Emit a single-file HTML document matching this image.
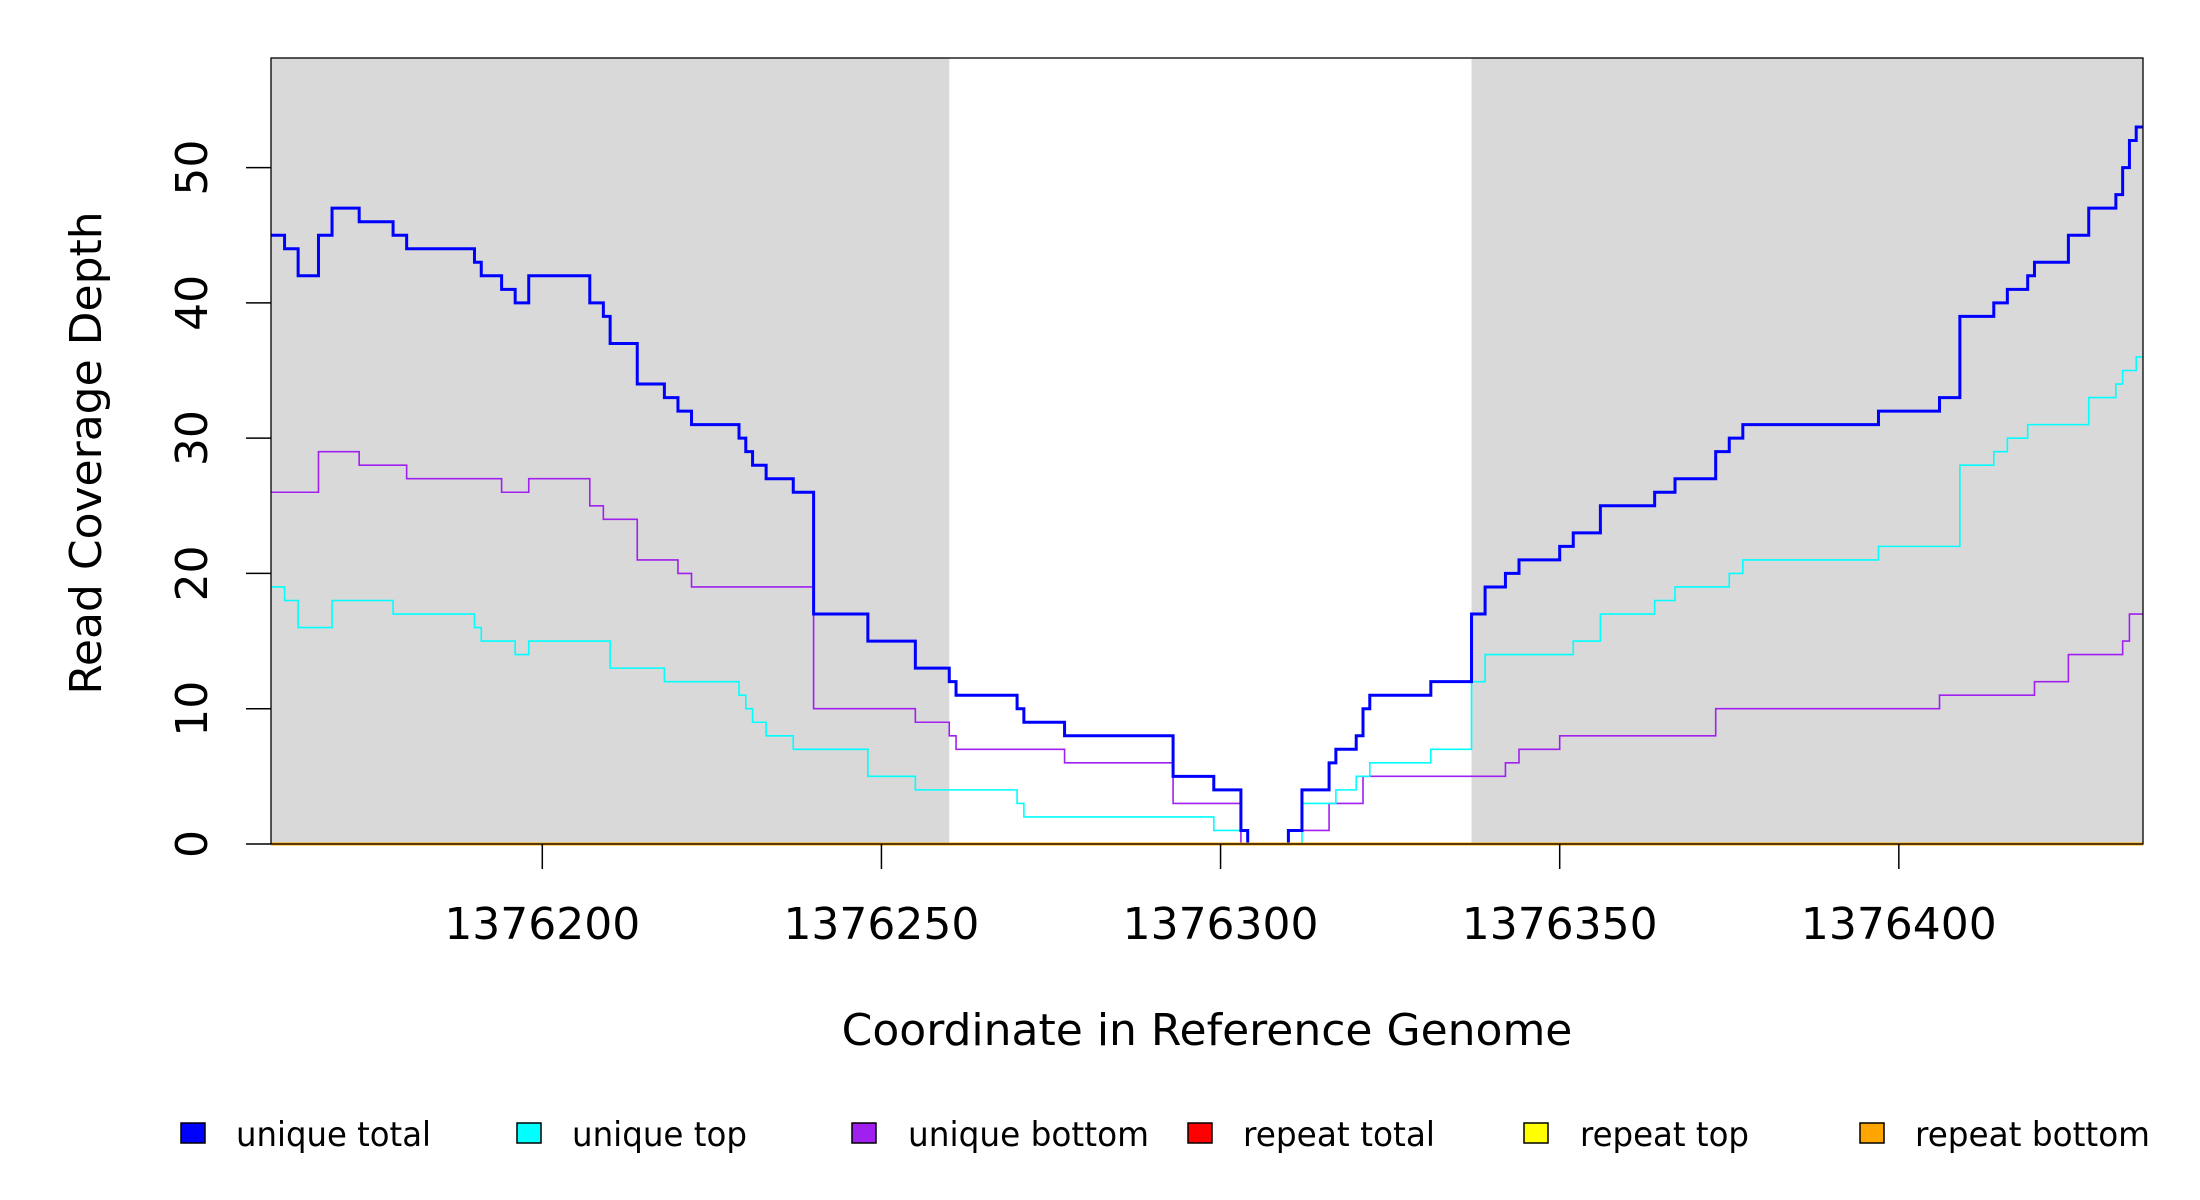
<!DOCTYPE html>
<html><head><meta charset="utf-8"><style>
html,body{margin:0;padding:0;background:#fff;}
svg{display:block;}
text{font-family:"DejaVu Sans","Liberation Sans",sans-serif;fill:#000;}
</style></head><body>
<svg id="chart" width="2200" height="1200" viewBox="0 0 2200 1200" xmlns="http://www.w3.org/2000/svg">
<g id="bg"></g>
<g id="series"></g>
<g id="axes"></g>
<g id="legend"></g>
</svg>
<script>
const xDomain = [1376160, 1376436];
const yDomain = [0, 58.1];
const xTicks = [1376200, 1376250, 1376300, 1376350, 1376400];
const yTicks = [0, 10, 20, 30, 40, 50];
const shadedRegions = [[1376160, 1376260], [1376337, 1376436]];

const uniqueTotalX = [1376160,1376162,1376164,1376167,1376169,1376173,1376178,1376180,1376190,1376191,1376194,1376196,1376198,1376207,1376209,1376210,1376214,1376218,1376220,1376222,1376229,1376230,1376231,1376233,1376237,1376240,1376248,1376255,1376260,1376261,1376270,1376271,1376277,1376293,1376299,1376303,1376304,1376310,1376312,1376316,1376317,1376320,1376321,1376322,1376331,1376337,1376339,1376342,1376344,1376350,1376352,1376356,1376364,1376367,1376373,1376375,1376377,1376397,1376406,1376409,1376414,1376416,1376419,1376420,1376425,1376428,1376432,1376433,1376434,1376435];
const uniqueTotalY = [45,44,42,45,47,46,45,44,43,42,41,40,42,40,39,37,34,33,32,31,30,29,28,27,26,17,15,13,12,11,10,9,8,5,4,1,0,1,4,6,7,8,10,11,12,17,19,20,21,22,23,25,26,27,29,30,31,32,33,39,40,41,42,43,45,47,48,50,52,53];

const uniqueTopX = [1376160,1376162,1376164,1376169,1376178,1376190,1376191,1376196,1376198,1376210,1376218,1376229,1376230,1376231,1376233,1376237,1376248,1376255,1376270,1376271,1376299,1376304,1376312,1376317,1376320,1376322,1376331,1376337,1376339,1376352,1376356,1376364,1376367,1376375,1376377,1376397,1376409,1376414,1376416,1376419,1376428,1376432,1376433,1376435];
const uniqueTopY = [19,18,16,18,17,16,15,14,15,13,12,11,10,9,8,7,5,4,3,2,1,0,3,4,5,6,7,12,14,15,17,18,19,20,21,22,28,29,30,31,33,34,35,36];

const uniqueBottomX = [1376160,1376167,1376173,1376180,1376194,1376198,1376207,1376209,1376214,1376220,1376222,1376240,1376255,1376260,1376261,1376277,1376293,1376303,1376310,1376316,1376321,1376342,1376344,1376350,1376373,1376406,1376420,1376425,1376433,1376434];
const uniqueBottomY = [26,29,28,27,26,27,25,24,21,20,19,10,9,8,7,6,3,0,1,3,5,6,7,8,10,11,12,14,15,17];

const repeatX = [1376160];
const repeatTotalY = [0];
const repeatTopY = [0];
const repeatBottomY = [0];

const legendLabels = ["unique total","unique top","unique bottom","repeat total","repeat top","repeat bottom"];
const legendColors = ["#0000ff","#00ffff","#a020f0","#ff0000","#ffff00","#ffa500"];

const P = {l:271, r:2143, t:58, b:844};
const NS = "http://www.w3.org/2000/svg";
function sx(v){ return P.l + (v - xDomain[0]) / (xDomain[1] - xDomain[0]) * (P.r - P.l); }
function sy(v){ return P.b - (v - yDomain[0]) / (yDomain[1] - yDomain[0]) * (P.b - P.t); }
function mk(tag, attrs, parent){ const e = document.createElementNS(NS, tag); for (const k in attrs) e.setAttribute(k, attrs[k]); parent.appendChild(e); return e; }

const bg = document.getElementById('bg');
shadedRegions.forEach(function(r){
  const rect = mk('rect', {x:sx(r[0]), y:P.t, width:sx(r[1])-sx(r[0]), height:P.b-P.t, fill:'#d9d9d9'}, bg);
  
  
});

function stepPath(xs, ys){
  let d = '';
  for (let i = 0; i < xs.length; i++){
    const x0 = sx(xs[i]), x1 = sx(i+1 < xs.length ? xs[i+1] : xDomain[1]), y = sy(ys[i]);
    d += (i === 0 ? 'M' + x0 + ',' + y : 'L' + x0 + ',' + y) + ' L' + x1 + ',' + y + ' ';
  }
  return d;
}
const sg = document.getElementById('series');
const seriesDefs = [
  [uniqueBottomX, uniqueBottomY, legendColors[2], 1.6, 'unique-bottom-line'],
  [uniqueTopX, uniqueTopY, legendColors[1], 1.6, 'unique-top-line'],
  [uniqueTotalX, uniqueTotalY, legendColors[0], 3, 'unique-total-line'],
  [repeatX, repeatTotalY, legendColors[3], 3, 'repeat-total-line'],
  [repeatX, repeatTopY, legendColors[4], 3, 'repeat-top-line'],
  [repeatX, repeatBottomY, legendColors[5], 3, 'repeat-bottom-line']
];
seriesDefs.forEach(function(s){
  const p = mk('path', {d:stepPath(s[0], s[1]), fill:'none', stroke:s[2], 'stroke-width':s[3]}, sg);
  
  
});

const ax = document.getElementById('axes');
const frame = mk('rect', {x:P.l, y:P.t, width:P.r-P.l, height:P.b-P.t, fill:'none', stroke:'#000', 'stroke-width':1.3}, ax);


xTicks.forEach(function(t){
  const x = sx(t);
  const tk = mk('line', {x1:x, x2:x, y1:P.b, y2:P.b+25, stroke:'#000', 'stroke-width':1.5}, ax);
  
  
  const lb = mk('text', {x:x, y:939, 'text-anchor':'middle', 'font-size':44}, ax);
  lb.textContent = t;
  
  
});
yTicks.forEach(function(t){
  const y = sy(t);
  const tk = mk('line', {x1:P.l-25, x2:P.l, y1:y, y2:y, stroke:'#000', 'stroke-width':1.5}, ax);
  
  
  const lb = mk('text', {x:0, y:0, 'text-anchor':'middle', 'font-size':44, transform:'translate(207,' + y + ') rotate(-90)'}, ax);
  lb.textContent = t;
  
  
});
const xt = mk('text', {x:(P.l+P.r)/2, y:1045, 'text-anchor':'middle', 'font-size':44}, ax);
xt.textContent = 'Coordinate in Reference Genome';


const yt = mk('text', {x:0, y:0, 'text-anchor':'middle', 'font-size':44, transform:'translate(101,453) rotate(-90)'}, ax);
yt.textContent = 'Read Coverage Depth';



const lg = document.getElementById('legend');
const legSquareX = [181, 517, 852, 1188, 1524, 1860];
const legTextX = [236, 572, 908, 1243, 1580, 1915];
const legTextW = [195, 175, 241, 192, 169, 235];
legendLabels.forEach(function(lab, i){
  const g = mk('g', {}, lg);
  
  
  const sq = mk('rect', {x:legSquareX[i], y:1123, width:24, height:20, fill:legendColors[i], stroke:'#000', 'stroke-width':1.5}, g);
  
  
  const tx = mk('text', {x:legTextX[i], y:1146, 'font-size':34, textLength:legTextW[i], lengthAdjust:'spacingAndGlyphs'}, g);
  tx.textContent = lab;
  
  
});
</script>
</body></html>
